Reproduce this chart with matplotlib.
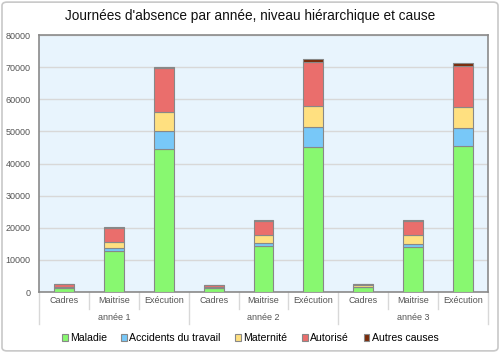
import numpy as np
import matplotlib.pyplot as plt
from matplotlib.patches import FancyBboxPatch

plt.rcParams['font.family'] = ['Liberation Sans', 'DejaVu Sans']

# Data
years = ['année 1', 'année 2', 'année 3']
levels = ['Cadres', 'Maitrise', 'Exécution']
causes = ['Maladie', 'Accidents du travail', 'Maternité', 'Autorisé', 'Autres causes']
colors = ['#88F870', '#78C8F8', '#FFE080', '#EA6E6C', '#7A2A08']

maladie   = [1300, 12700, 44600, 1200, 14400, 45200, 1500, 14000, 45400]
accidents = [100,    950,  5400,  100,   800,  6300,  100,   900,  5500]
maternite = [300,   2050,  6000,  200,  2700,  6500,  500,  2900,  6800]
autorise  = [700,   4200, 13700,  700,  4100, 13500,  400,  4300, 12700]
autres    = [100,    300,   200,  100,   400,  1000,  100,   300,   900]

series = [maladie, accidents, maternite, autorise, autres]

fig = plt.figure(figsize=(5, 3.53), dpi=100)
fig.patch.set_facecolor('white')
border = FancyBboxPatch((0.004, 0.006), 0.992, 0.988, boxstyle='round,pad=0,rounding_size=0.01',
                        transform=fig.transFigure, fc='none', ec='#c8c8c8', lw=1.2)
fig.patches.append(border)

ax = fig.add_axes([0.078, 0.1728, 0.898, 0.728])
ax.set_facecolor('#E8F4FD')

x = np.arange(len(maladie))
bottom = np.zeros(len(x))
for vals, col, name in zip(series, colors, causes):
    ax.bar(x, vals, 0.4, bottom=bottom, color=col, edgecolor='#888888', lw=0.8, label=name, zorder=3)
    bottom += np.array(vals)

ax.set_xlim(-0.5, len(x) - 0.5)
ax.set_ylim(0, 80000)
ax.set_yticks(np.arange(0, 80001, 10000))
ax.yaxis.grid(True, color='#d8d8d8', lw=1, zorder=0)
ax.tick_params(axis='y', length=0, labelsize=6.5, labelcolor='#555555', pad=6)
ax.set_xticks([])
for s in ax.spines.values():
    s.set_color('#8a8a8a')
    s.set_linewidth(1.2)

# multi-level category axis
for i in range(len(x)):
    ax.text(i, -2600, levels[i % 3], ha='center', va='center', fontsize=6.5, color='#555555', clip_on=False)
for j, y in enumerate(years):
    ax.text(j * 3 + 1, -8000, y, ha='center', va='center', fontsize=6.5, color='#555555', clip_on=False)
for i in range(len(x) + 1):
    xe = i - 0.5
    low = -10000 if i % 3 == 0 else -5300
    ax.plot([xe, xe], [0, low], color='#d8d8d8', lw=1, clip_on=False)

fig.text(0.5, 0.955, "Journées d'absence par année, niveau hiérarchique et cause",
         ha='center', va='center', fontsize=9.8, color='#111111')

fig.legend(loc='center', bbox_to_anchor=(0.5, 0.042), ncol=5, frameon=False, fontsize=7.6,
           handlelength=0.55, handleheight=0.55, handletextpad=0.2, columnspacing=1.4)

fig.savefig('out.png', dpi=100)
